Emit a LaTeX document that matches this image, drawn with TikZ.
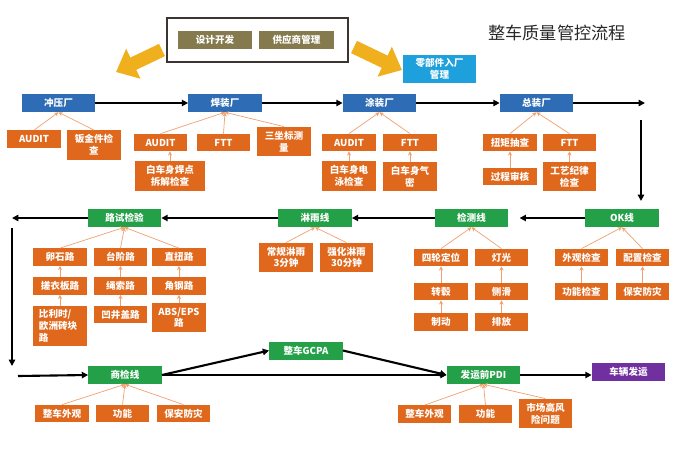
\documentclass[tikz,border=0pt]{standalone}
\usepackage{fontspec}
\setmainfont{Noto Sans CJK SC}
\usetikzlibrary{arrows.meta}
\definecolor{plantblue}{RGB}{46,109,181}
\definecolor{lanegreen}{RGB}{36,160,72}
\definecolor{chkorange}{RGB}{224,104,28}
\definecolor{feedorange}{RGB}{240,160,110}
\definecolor{mgmtolive}{RGB}{133,122,77}
\definecolor{partsblue}{RGB}{30,160,220}
\definecolor{shippurple}{RGB}{112,48,160}
\definecolor{bigyellow}{RGB}{240,176,30}
\definecolor{framegray}{RGB}{60,52,48}
\definecolor{titlegray}{RGB}{40,40,40}
\newcommand{\chkfont}{\fontsize{6.8}{8.3}\selectfont\bfseries}
\tikzset{
  plant/.style={fill=plantblue, text=white, font=\chkfont, inner sep=1pt,
    minimum width=1.83cm, minimum height=0.45cm},
  lane/.style={fill=lanegreen, text=white, font=\chkfont, inner sep=1pt,
    minimum width=1.83cm, minimum height=0.45cm},
  ship/.style={fill=shippurple, text=white, font=\chkfont, inner sep=1pt,
    minimum width=1.83cm, minimum height=0.45cm},
  mgmt/.style={fill=mgmtolive, text=white, font=\chkfont, inner sep=1pt,
    minimum width=1.85cm, minimum height=0.45cm},
  parts/.style={fill=partsblue, text=white, font=\chkfont, inner sep=1pt,
    align=center, minimum width=1.83cm, minimum height=0.7cm},
  chk/.style={fill=chkorange, text=white, font=\chkfont, inner sep=1pt,
    align=center, minimum width=1.33cm, minimum height=0.43cm},
  chktwo/.style={chk, minimum height=0.73cm},
  flow/.style={-{Triangle[length=4.5pt,width=4.5pt]}, line width=1.5pt, black},
  feed/.style={-{Stealth[length=3pt,width=3pt]}, line width=0.5pt, color=feedorange},
  bigarrow/.style={-{Triangle[length=0.48cm,width=0.8cm]}, line width=0.34cm, color=bigyellow},
}

\begin{document}
\begin{tikzpicture}[x=0.025cm, y=-0.025cm]
  \useasboundingbox (0,0) rectangle (696,468);

  \draw[framegray, line width=1.3pt] (167,18) rectangle (348,62);
  \node[mgmt] (design)   at (215,40)   {设计开发};
  \node[mgmt] (supplier) at (296.5,40) {供应商管理};
  \node[font=\fontsize{12.2}{14}\selectfont, text=titlegray] (title) at (557,33) {整车质量管控流程};
  \node[parts] (inbound) at (439.5,69) {零部件入厂\\管理};

  \coordinate (ylstart) at (162,50);
  \coordinate (ylend)   at (116,72);
  \coordinate (yrstart) at (354,47);
  \coordinate (yrend)   at (402,70);
  \draw[bigarrow] (ylstart) -- (ylend);
  \draw[bigarrow] (yrstart) -- (yrend);

  \node[plant] (stamp) at (58.5,103)  {冲压厂};
  \node[plant] (weld)  at (225,103)   {焊装厂};
  \node[plant] (paint) at (379.5,103) {涂装厂};
  \node[plant] (final) at (536.5,103) {总装厂};

  \node[chk]    (stampaudit) at (34,139)     {AUDIT};
  \node[chktwo] (sheet)      at (94,145)     {钣金件检\\查};
  \node[chk]    (weldaudit)  at (160.5,142.5) {AUDIT};
  \node[chktwo, minimum width=1.75cm] (spot) at (170,176) {白车身焊点\\拆解检查};
  \node[chk]    (weldftt)    at (223.5,142.5) {FTT};
  \node[chktwo] (cmm)        at (284,141.5)  {三坐标测\\量};
  \node[chk]    (paintaudit) at (349,142.5)  {AUDIT};
  \node[chktwo] (ecoat)      at (349,176)    {白车身电\\泳检查};
  \node[chk]    (paintftt)   at (410,142.5)  {FTT};
  \node[chktwo] (seal)       at (410,176.5)  {白车身气\\密};
  \node[chk]    (torque)     at (510,142.5)  {扭矩抽查};
  \node[chk]    (procaudit)  at (510,176.5)  {过程审核};
  \node[chk]    (finalftt)   at (569.5,142.5) {FTT};
  \node[chktwo] (discipline) at (569.5,176.5) {工艺纪律\\检查};

  \node[lane] (okline)   at (622,218)   {OK线};
  \node[lane] (testline) at (471.5,218) {检测线};
  \node[lane] (rainline) at (315,218)   {淋雨线};
  \node[lane] (roadtest) at (124.5,218) {路试检验};

  \node[chk] (appear)  at (581.5,257.5) {外观检查};
  \node[chk] (config)  at (642.5,257.5) {配置检查};
  \node[chk] (func)    at (581.5,291.5) {功能检查};
  \node[chk] (safety)  at (642.5,291.5) {保安防灾};

  \node[chk] (align)   at (441,257.5) {四轮定位};
  \node[chk] (lamp)    at (501.5,257.5) {灯光};
  \node[chk] (drum)    at (441,291.5) {转毂};
  \node[chk] (slip)    at (501.5,291.5) {侧滑};
  \node[chk] (brake)   at (441,322) {制动};
  \node[chk] (emis)    at (501.5,322) {排放};

  \node[chktwo] (rainstd)   at (286,257.5) {常规淋雨\\3分钟};
  \node[chktwo] (rainheavy) at (346.5,257.5) {强化淋雨\\30分钟};

  \node[chk] (cobble)  at (60,257)  {卵石路};
  \node[chk] (washb)   at (60,286)  {搓衣板路};
  \node[chk, align=left, text width=1.05cm, inner xsep=0.15cm, minimum height=1cm]
             (belgian) at (60,326)  {比利时/\\欧洲砖块\\路};
  \node[chk] (steps)   at (120.5,257) {台阶路};
  \node[chk] (rope)    at (120.5,286) {绳索路};
  \node[chk] (pothole) at (120.5,314.5) {凹井盖路};
  \node[chk] (twist)   at (179,257) {直扭路};
  \node[chk] (angle)   at (179,286) {角钢路};
  \node[chktwo] (abs)  at (179,317.5) {ABS/EPS\\路};

  \node[lane] (cis)  at (125,375)   {商检线};
  \node[lane] (gcpa) at (306,350.5) {整车GCPA};
  \node[lane] (pdi)  at (483.5,375) {发运前PDI};
  \node[ship] (ship) at (628.5,372) {车辆发运};

  \node[chk] (cisappear) at (62,413.5)  {整车外观};
  \node[chk] (cisfunc)   at (122.5,413.5) {功能};
  \node[chk] (cissafety) at (183.5,413.5) {保安防灾};
  \node[chk] (pdiappear) at (424.5,414) {整车外观};
  \node[chk] (pdifunc)   at (485.5,414) {功能};
  \node[chktwo] (pdirisk) at (545.5,413.5) {市场高风\\险问题};

  \draw[flow] (stamp.east) -- (weld.west);
  \draw[flow] (weld.east) -- (paint.west);
  \draw[flow] (paint.east) -- (final.west);
  \coordinate (rowoneend) at (645,103);
  \draw[flow] (final.east) -- (rowoneend);
  \coordinate (downtop) at (641,120);
  \coordinate (downbot) at (641,201);
  \draw[flow] (downtop) -- (downbot);

  \draw[flow, shorten >=8pt] (okline.west) -- (testline.east);
  \draw[flow] (testline.west) -- (rainline.east);
  \draw[flow] (rainline.west) -- (roadtest.east);
  \coordinate (rowtwoend) at (12,218);
  \draw[flow] (roadtest.west) -- (rowtwoend);
  \coordinate (uptop) at (12,228);
  \coordinate (upbot) at (12,366);
  \draw[flow] (uptop) -- (upbot);
  \coordinate (rowthreestart) at (18,376);
  \draw[flow] (rowthreestart) -- (cis.west);

  \draw[flow] (cis.east) -- (gcpa.west);
  \draw[flow] (gcpa.east) -- (pdi.west);
  \draw[flow] (cis.east) -- (pdi.west);
  \draw[flow] (pdi.east) -- (pdi.east -| ship.west);

  \draw[feed] (stampaudit.north) -- (stamp.south);
  \draw[feed] (sheet.north) -- (stamp.south);
  \draw[feed] (weldaudit.north) -- (weld.south);
  \draw[feed] (weldftt.north) -- (weld.south);
  \draw[feed] (cmm.north) -- (weld.south);
  \draw[feed] (spot.north) -- (spot.north |- weldaudit.south);
  \draw[feed] (paintaudit.north) -- (paint.south);
  \draw[feed] (paintftt.north) -- (paint.south);
  \draw[feed] (ecoat.north) -- (paintaudit.south);
  \draw[feed] (seal.north) -- (paintftt.south);
  \draw[feed] (torque.north) -- (final.south);
  \draw[feed] (finalftt.north) -- (final.south);
  \draw[feed] (procaudit.north) -- (torque.south);
  \draw[feed] (discipline.north) -- (finalftt.south);

  \draw[feed] (appear.north) -- (okline.south);
  \draw[feed] (config.north) -- (okline.south);
  \draw[feed] (func.north) -- (appear.south);
  \draw[feed] (safety.north) -- (config.south);
  \draw[feed] (align.north) -- (testline.south);
  \draw[feed] (lamp.north) -- (testline.south);
  \draw[feed] (drum.north) -- (align.south);
  \draw[feed] (slip.north) -- (lamp.south);
  \draw[feed] (brake.north) -- (drum.south);
  \draw[feed] (emis.north) -- (slip.south);
  \draw[feed] (rainstd.north) -- (rainline.south);
  \draw[feed] (rainheavy.north) -- (rainline.south);
  \draw[feed] (cobble.north) -- (roadtest.south);
  \draw[feed] (steps.north) -- (roadtest.south);
  \draw[feed] (twist.north) -- (roadtest.south);
  \draw[feed] (washb.north) -- (cobble.south);
  \draw[feed] (belgian.north) -- (washb.south);
  \draw[feed] (rope.north) -- (steps.south);
  \draw[feed] (pothole.north) -- (rope.south);
  \draw[feed] (angle.north) -- (twist.south);
  \draw[feed] (abs.north) -- (angle.south);

  \draw[feed] (cisappear.north) -- (cis.south);
  \draw[feed] (cisfunc.north) -- (cis.south);
  \draw[feed] (cissafety.north) -- (cis.south);
  \draw[feed] (pdiappear.north) -- (pdi.south);
  \draw[feed] (pdifunc.north) -- (pdi.south);
  \draw[feed] (pdirisk.north) -- (pdi.south);

\end{tikzpicture}
\end{document}
